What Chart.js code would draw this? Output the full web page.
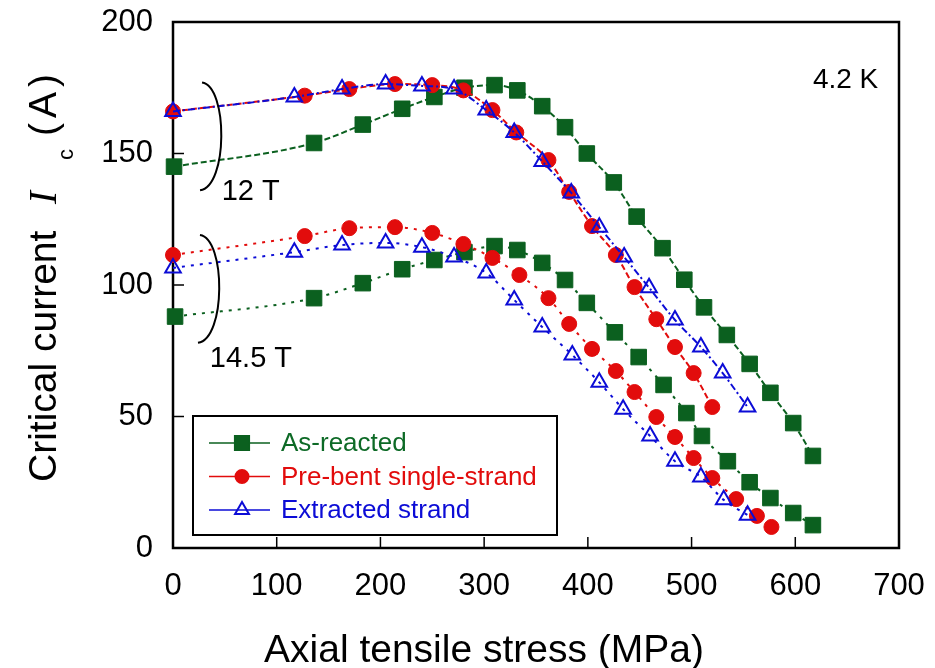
<!DOCTYPE html>
<html>
<head>
<meta charset="utf-8">
<title>Critical current vs axial tensile stress</title>
<script src="https://cdn.jsdelivr.net/npm/chart.js@4.4.0/dist/chart.umd.min.js"></script>
<style>
  html, body { margin: 0; padding: 0; background: #fff; }
  #wrap { width: 935px; height: 668px; }
</style>
</head>
<body>
<div id="wrap"><canvas id="icChart" width="935" height="668"></canvas></div>
<script>
// axis ticks
const xTickValues = [0, 100, 200, 300, 400, 500, 600, 700];
const yTickValues = [0, 50, 100, 150, 200];

// 12 T series (stress in MPa, Ic in A)
const stressAsReacted12 = [1, 136, 183, 221, 252, 281, 310, 332, 356, 378, 399, 425, 447, 472, 493, 512, 534, 556, 576, 598, 617];
const icAsReacted12 = [145, 154, 161, 167, 171.5, 175, 176, 174, 168, 160, 150, 139, 126, 114, 102, 91.5, 81, 70, 59, 47.5, 35];

const stressPreBent12 = [0, 127, 170, 214, 250, 280, 308, 331, 362, 382, 404, 427, 445, 466, 484, 502, 520];
const icPreBent12 = [166, 172, 174.5, 176.4, 176, 174, 166.5, 158, 147.5, 135.4, 122.4, 111.4, 99.2, 87, 76.4, 66.5, 53.6];

const stressExtracted12 = [0, 117, 163, 205, 240, 271, 302, 329, 356, 384, 411, 435, 459, 484, 509, 530, 554];
const icExtracted12 = [166, 171.5, 174.5, 176.4, 175.7, 174.5, 166.5, 158, 147, 135, 122, 110.6, 99, 86.7, 76.4, 66.5, 53.6];

// 14.5 T series
const stressAsReacted145 = [2, 136, 183, 221, 252, 281, 310, 332, 356, 378, 399, 426, 449, 473, 495, 510, 535, 556, 576, 598, 617];
const icAsReacted145 = [88, 95, 100.7, 106, 109.5, 112.5, 114.8, 113.3, 108.4, 101.9, 93.2, 82, 72.6, 62, 51.3, 42.6, 33, 25, 19, 13.3, 8.7];

const stressPreBent145 = [0, 127, 170, 214, 250, 280, 308, 334, 362, 382, 404, 427, 445, 466, 484, 502, 520, 543, 563, 577];
const icPreBent145 = [111.4, 118.6, 121.6, 122, 119.8, 115.6, 110.3, 103.8, 95, 85.2, 75.7, 67.3, 59.3, 49.8, 42.2, 34.2, 26.6, 18.6, 12.2, 8];

const stressExtracted145 = [0, 117, 163, 205, 240, 271, 302, 329, 356, 385, 411, 434, 460, 484, 509, 531, 554];
const icExtracted145 = [106.5, 112.5, 115.2, 116, 114.4, 110.6, 104.6, 94.3, 84, 73.4, 63, 52.8, 42.6, 33, 27, 18.3, 12.5];

const legendLabels = ['As-reacted', 'Pre-bent single-strand', 'Extracted strand'];

const GREEN = '#0b601f';
const RED = '#e20c0c';
const BLUE = '#0c0cd6';
const FONT = "'Liberation Sans', Arial, sans-serif";

const toPoints = (xs, ys) => xs.map((x, i) => ({ x: x, y: ys[i] }));

const dashed = [6, 3];
const dotted = [3, 6];

const makeSet = (label, xs, ys, color, style, dash, order) => ({
  label: label,
  data: toPoints(xs, ys),
  borderColor: color,
  backgroundColor: style === 'triangle' ? 'rgba(0,0,0,0)' : color,
  pointBackgroundColor: style === 'triangle' ? 'rgba(0,0,0,0)' : color,
  pointBorderColor: color,
  pointBorderWidth: style === 'triangle' ? 2 : 1,
  pointStyle: style,
  pointRadius: style === 'rect' ? 11 : (style === 'circle' ? 7.5 : 9),
  borderWidth: 2,
  borderDash: dash,
  cubicInterpolationMode: 'monotone',
  clip: false,
  order: order,
});

// draws the frame, inward ticks, brackets, labels, titles and the boxed legend
const decorations = {
  id: 'decorations',
  beforeDatasetsDraw(chart) {
    const { ctx, chartArea: ca, scales } = chart;
    ctx.save();
    ctx.strokeStyle = '#000';
    ctx.lineWidth = 2.5;
    ctx.strokeRect(ca.left, ca.top, ca.right - ca.left, ca.bottom - ca.top);
    ctx.lineWidth = 1.5;
    xTickValues.slice(1, -1).forEach(v => {
      const px = scales.x.getPixelForValue(v);
      ctx.beginPath();
      ctx.moveTo(px, ca.bottom);
      ctx.lineTo(px, ca.bottom - 11);
      ctx.stroke();
    });
    yTickValues.slice(1, -1).forEach(v => {
      const py = scales.y.getPixelForValue(v);
      ctx.beginPath();
      ctx.moveTo(ca.left, py);
      ctx.lineTo(ca.left + 11, py);
      ctx.stroke();
    });
    ctx.restore();
  },
  afterDatasetsDraw(chart) {
    const { ctx, chartArea: ca, scales } = chart;
    const xs = scales.x, ys = scales.y;
    ctx.save();

    // field brackets
    const bracket = (xv, topV, botV) => {
      const x0 = xs.getPixelForValue(xv);
      const yt = ys.getPixelForValue(topV);
      const yb = ys.getPixelForValue(botV);
      ctx.beginPath();
      ctx.moveTo(x0, yt);
      ctx.bezierCurveTo(x0 + 26, yt + 4, x0 + 26, yb - 4, x0 - 2, yb);
      ctx.strokeStyle = '#000';
      ctx.lineWidth = 2;
      ctx.stroke();
    };
    bracket(28, 177, 136);
    bracket(26, 119, 78);

    ctx.fillStyle = '#000';
    ctx.textBaseline = 'alphabetic';
    ctx.textAlign = 'left';
    ctx.font = '29px ' + FONT;
    ctx.fillText('12 T', xs.getPixelForValue(47), ys.getPixelForValue(132.3));
    ctx.fillText('14.5 T', xs.getPixelForValue(35.5), ys.getPixelForValue(68.8));
    ctx.font = '28px ' + FONT;
    ctx.fillText('4.2 K', xs.getPixelForValue(617), ys.getPixelForValue(175));

    // x axis title
    ctx.font = '39px ' + FONT;
    ctx.textAlign = 'center';
    ctx.fillText('Axial tensile stress (MPa)', 484, 662);

    // y axis title with italic I and subscript c
    ctx.save();
    ctx.translate(56, 482);
    ctx.rotate(-Math.PI / 2);
    ctx.textAlign = 'left';
    ctx.font = '39px ' + FONT;
    ctx.fillText('Critical current', 0, 0);
    ctx.font = 'italic 39px "Liberation Serif", "Times New Roman", serif';
    ctx.fillText('I', 278, 0);
    ctx.font = '22px ' + FONT;
    ctx.fillText('c', 322, 17);
    ctx.font = '39px ' + FONT;
    ctx.fillText('(', 346, 0);
    ctx.fillText('A', 346 + ctx.measureText('(').width + 5, 0);
    ctx.fillText(')', 346 + ctx.measureText('(A').width + 10, 0);
    ctx.restore();

    // legend box
    const bx = ca.left + 20, by = ca.bottom - 132, bw = 364, bh = 119;
    ctx.fillStyle = '#fff';
    ctx.fillRect(bx, by, bw, bh);
    ctx.strokeStyle = '#000';
    ctx.lineWidth = 2;
    ctx.strokeRect(bx, by, bw, bh);
    const rows = [
      { color: GREEN, text: '#0d6a26', style: 'rect', r: 10, fill: GREEN },
      { color: RED, text: RED, style: 'circle', r: 6.5, fill: RED },
      { color: BLUE, text: BLUE, style: 'triangle', r: 8, fill: 'rgba(0,0,0,0)' },
    ];
    ctx.font = '26px ' + FONT;
    ctx.textAlign = 'left';
    ctx.textBaseline = 'middle';
    rows.forEach((row, i) => {
      const ry = by + 27 + i * 33.5;
      ctx.strokeStyle = row.color;
      ctx.lineWidth = 1.5;
      ctx.setLineDash([]);
      ctx.beginPath();
      ctx.moveTo(bx + 16, ry);
      ctx.lineTo(bx + 77, ry);
      ctx.stroke();
      ctx.fillStyle = row.fill;
      ctx.lineWidth = 2;
      Chart.helpers.drawPoint(ctx, { pointStyle: row.style, radius: row.r, rotation: 0, borderWidth: 2 }, bx + 49, ry);
      ctx.fillStyle = row.text;
      ctx.fillText(legendLabels[i], bx + 88, ry + 1);
    });
    ctx.restore();
  },
};

new Chart(document.getElementById('icChart'), {
  type: 'line',
  data: {
    datasets: [
      makeSet('As-reacted 12 T', stressAsReacted12, icAsReacted12, GREEN, 'rect', dashed, 2),
      makeSet('Pre-bent single-strand 12 T', stressPreBent12, icPreBent12, RED, 'circle', dashed, 1),
      makeSet('Extracted strand 12 T', stressExtracted12, icExtracted12, BLUE, 'triangle', [7, 3, 2, 3], 0),
      makeSet('As-reacted 14.5 T', stressAsReacted145, icAsReacted145, GREEN, 'rect', dotted, 2),
      makeSet('Pre-bent single-strand 14.5 T', stressPreBent145, icPreBent145, RED, 'circle', dotted, 1),
      makeSet('Extracted strand 14.5 T', stressExtracted145, icExtracted145, BLUE, 'triangle', dotted, 0),
    ],
  },
  options: {
    responsive: false,
    animation: false,
    layout: { padding: { top: 22, right: 36, left: 0, bottom: 0 } },
    plugins: {
      legend: { display: false },
      tooltip: { enabled: false },
    },
    scales: {
      x: {
        type: 'linear',
        min: 0,
        max: 700,
        afterBuildTicks: s => { s.ticks = xTickValues.map(v => ({ value: v })); },
        afterFit: s => { s.height = 120; s.paddingLeft = 0; s.paddingRight = 0; },
        grid: { display: false, drawTicks: false },
        border: { display: false },
        ticks: { color: '#000', padding: 20, maxRotation: 0, font: { family: FONT, size: 31 } },
      },
      y: {
        type: 'linear',
        min: 0,
        max: 200,
        afterBuildTicks: s => { s.ticks = yTickValues.map(v => ({ value: v })); },
        afterFit: s => { s.width = 173; s.paddingTop = 0; s.paddingBottom = 0; },
        grid: { display: false, drawTicks: false },
        border: { display: false },
        ticks: { color: '#000', padding: 20, font: { family: FONT, size: 31 } },
      },
    },
  },
  plugins: [decorations],
});
</script>
</body>
</html>
